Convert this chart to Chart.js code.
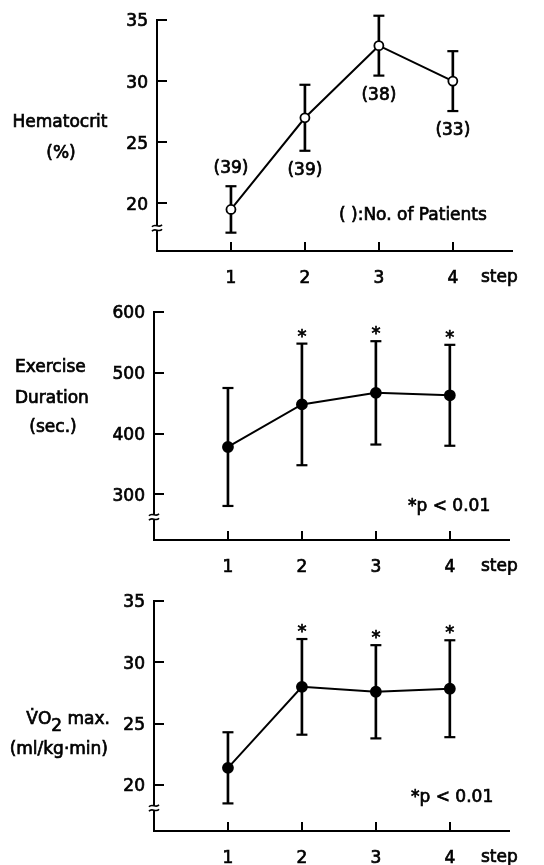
<!DOCTYPE html>
<html>
<head>
<meta charset="utf-8">
<script src="https://cdn.jsdelivr.net/npm/chart.js@4/dist/chart.umd.min.js"></script>
<style>
  html, body { margin: 0; padding: 0; background: #fff; }
  #wrap { position: relative; width: 544px; height: 865px; background: #fff; }
  canvas { position: absolute; left: 0; }
</style>
</head>
<body>
<div id="wrap">
  <canvas id="hct" width="544" height="290" style="top:0px"></canvas>
  <canvas id="dur" width="544" height="285" style="top:290px"></canvas>
  <canvas id="vo2" width="544" height="290" style="top:575px"></canvas>
</div>
<script>
// ---- data ----
const steps = [1, 2, 3, 4];

const hctMean = [19.5, 27.0, 32.9, 30.0];
const hctSD = [1.9, 2.7, 2.45, 2.45];
const hctN = [39, 39, 38, 33];
const hctTicks = [20, 25, 30, 35];

const durMean = [378, 448, 467, 463];
const durSD = [97, 100, 85, 83];
const durSig = [false, true, true, true];
const durTicks = [300, 400, 500, 600];

const vo2Mean = [21.4, 28.0, 27.6, 27.85];
const vo2SD = [2.9, 3.9, 3.8, 3.95];
const vo2Sig = [false, true, true, true];
const vo2Ticks = [20, 25, 30, 35];

// ---- drawing ----
const FONT = '"DejaVu Sans", sans-serif';
const TEXT_STROKE = 0.7;
const MID_SHIFT = 2; // optical centring of middle-baseline text
Chart.defaults.font.family = FONT;
Chart.defaults.font.size = 17;
Chart.defaults.color = '#000';

function strokeLine(ctx, x1, y1, x2, y2) {
  ctx.beginPath();
  ctx.moveTo(x1, y1);
  ctx.lineTo(x2, y2);
  ctx.stroke();
}

// filled text with a thin outline so it reads as heavy as the axis labels
function text(ctx, s, x, y) {
  ctx.fillText(s, x, y);
  ctx.strokeText(s, x, y);
}

// axis ticks pointing inward, broken-axis mark, side labels and annotations
const decor = {
  id: 'decor',
  afterDraw(chart, args, o) {
    const { ctx, chartArea: a, scales: { x, y } } = chart;
    ctx.save();
    ctx.strokeStyle = '#000';
    ctx.fillStyle = '#000';
    ctx.lineWidth = 2;

    o.yTicks.forEach(v => {
      const py = Math.round(y.getPixelForValue(v));
      strokeLine(ctx, a.left, py, a.left + 10, py);
    });
    steps.forEach(v => {
      const px = Math.round(x.getPixelForValue(v));
      strokeLine(ctx, px, a.bottom, px, a.bottom - 9);
    });

    // break in the value axis
    const by = a.bottom - 23, bx = a.left;
    ctx.fillStyle = '#fff';
    ctx.fillRect(bx - 3, by - 2, 6, 4);
    ctx.fillStyle = '#000';
    ctx.lineWidth = 1.6;
    [-2.2, 2.2].forEach(d => {
      ctx.beginPath();
      ctx.moveTo(bx - 5, by + d + 1);
      ctx.bezierCurveTo(bx - 2, by + d - 3, bx + 2, by + d + 3, bx + 5, by + d - 1);
      ctx.stroke();
    });

    ctx.font = '17px ' + FONT;
    ctx.lineWidth = TEXT_STROKE;
    ctx.textBaseline = 'middle';

    // "step" next to the category ticks
    ctx.textAlign = 'left';
    text(ctx, 'step', 481, a.bottom + 27);

    // side titles
    (o.labels || []).forEach(l => {
      ctx.textAlign = l.align;
      text(ctx, l.text, l.x, l.y + MID_SHIFT);
    });

    // corner note
    if (o.note) {
      ctx.textAlign = 'left';
      text(ctx, o.note.text, o.note.x, o.note.y + MID_SHIFT);
    }

    // significance stars above the upper error caps
    if (o.sig) {
      ctx.textAlign = 'center';
      ctx.textBaseline = 'alphabetic';
      ctx.font = '18px ' + FONT;
      o.sig.forEach((s, i) => {
        if (!s) return;
        const px = x.getPixelForValue(steps[i]);
        const py = y.getPixelForValue(o.mean[i] + o.sd[i]);
        text(ctx, '*', px, py - 2);
      });
      ctx.font = '17px ' + FONT;
      ctx.textBaseline = 'middle';
    }

    // patient counts
    if (o.counts) {
      ctx.textAlign = 'center';
      o.counts.forEach((n, i) => {
        const px = x.getPixelForValue(steps[i]);
        const py = o.countAbove[i]
          ? y.getPixelForValue(o.mean[i] + o.sd[i]) - 20
          : y.getPixelForValue(o.mean[i] - o.sd[i]) + 18;
        text(ctx, '(' + n + ')', px, py + MID_SHIFT);
      });
    }

    // V-dot O2 max. title
    if (o.vo2Title) {
      const t = o.vo2Title;
      const parts = ['V\u0307O', '2', ' max.'];
      const w = parts.map(p => ctx.measureText(p).width);
      let cx = t.right - (w[0] + w[1] + w[2]);
      const ty = t.y + MID_SHIFT;
      ctx.textAlign = 'left';
      text(ctx, parts[0], cx, ty); cx += w[0];
      text(ctx, parts[1], cx, ty + 7); cx += w[1];
      text(ctx, parts[2], cx, ty);
    }
    ctx.restore();
  }
};

function makePanel(id, cfg) {
  const canvas = document.getElementById(id);
  const H = canvas.height, W = canvas.width;
  const area = cfg.area;
  const pts = steps.map((s, i) => ({ x: s, y: cfg.mean[i] }));
  const bars = steps.map((s, i) => ({ x: s, y: [cfg.mean[i] - cfg.sd[i], cfg.mean[i] + cfg.sd[i]] }));
  const caps = [];
  steps.forEach((s, i) => {
    caps.push({ x: s, y: cfg.mean[i] + cfg.sd[i] });
    caps.push({ x: s, y: cfg.mean[i] - cfg.sd[i] });
  });
  const tickFont = { size: 17, family: FONT };

  return new Chart(canvas, {
    type: 'line',
    data: {
      datasets: [
        {
          type: 'line', data: pts, order: 0, clip: false,
          borderColor: '#000', borderWidth: 2, tension: 0,
          pointRadius: cfg.open ? 4.5 : 5, pointBorderWidth: 1.8,
          pointBackgroundColor: cfg.open ? '#fff' : '#000', pointBorderColor: '#000'
        },
        {
          type: 'bar', data: bars, order: 1, clip: false,
          backgroundColor: '#000', borderWidth: 0, barThickness: 2
        },
        {
          type: 'scatter', data: caps, order: 2, clip: false, showLine: false,
          pointStyle: 'line', pointRadius: 5.5, pointBorderWidth: 2.2,
          pointBorderColor: '#000', borderColor: '#000'
        }
      ]
    },
    options: {
      responsive: false,
      animation: false,
      events: [],
      layout: { padding: { left: 0, top: area.top, right: W - area.right, bottom: 0 } },
      plugins: {
        legend: { display: false },
        tooltip: { enabled: false },
        decor: {
          yTicks: cfg.yTicks, labels: cfg.labels, note: cfg.note,
          sig: cfg.sig, mean: cfg.mean, sd: cfg.sd,
          counts: cfg.counts, countAbove: cfg.countAbove, vo2Title: cfg.vo2Title
        }
      },
      scales: {
        x: {
          type: 'linear', min: 0, max: 4.8, offset: false,
          grid: { display: false, drawTicks: false },
          border: { display: true, color: '#000', width: 2 },
          ticks: { padding: 17, font: tickFont, color: '#000', textStrokeColor: '#000', textStrokeWidth: TEXT_STROKE },
          afterBuildTicks: s => { s.ticks = steps.map(v => ({ value: v })); },
          afterFit: s => { s.height = H - area.bottom; }
        },
        y: {
          type: 'linear', min: cfg.yRange[0], max: cfg.yRange[1],
          grid: { display: false, drawTicks: false },
          border: { display: true, color: '#000', width: 2 },
          ticks: { padding: 9, labelOffset: 2, font: tickFont, color: '#000', textStrokeColor: '#000', textStrokeWidth: TEXT_STROKE },
          afterBuildTicks: s => { s.ticks = cfg.yTicks.map(v => ({ value: v })); },
          afterFit: s => { s.width = area.left; }
        }
      }
    },
    plugins: [decor]
  });
}

makePanel('hct', {
  area: { left: 157, top: 20, right: 512, bottom: 251 },
  yRange: [16.1, 35], yTicks: hctTicks,
  mean: hctMean, sd: hctSD, open: true,
  counts: hctN, countAbove: [true, false, false, false],
  labels: [
    { text: 'Hematocrit', x: 60, y: 121, align: 'center' },
    { text: '(%)', x: 61, y: 152, align: 'center' }
  ],
  note: { text: '( ):No. of Patients', x: 339, y: 214 }
});

makePanel('dur', {
  area: { left: 154, top: 22, right: 509, bottom: 250 },
  yRange: [225, 600], yTicks: durTicks,
  mean: durMean, sd: durSD, sig: durSig,
  labels: [
    { text: 'Exercise', x: 15, y: 76, align: 'left' },
    { text: 'Duration', x: 15, y: 107, align: 'left' },
    { text: '(sec.)', x: 53, y: 136, align: 'center' }
  ],
  note: { text: '*p < 0.01', x: 408, y: 215 }
});

makePanel('vo2', {
  area: { left: 154, top: 26, right: 509, bottom: 256 },
  yRange: [16.25, 35], yTicks: vo2Ticks,
  mean: vo2Mean, sd: vo2SD, sig: vo2Sig,
  labels: [
    { text: '(ml/kg\u00b7min)', x: 108, y: 173, align: 'right' }
  ],
  vo2Title: { right: 110, y: 143 },
  note: { text: '*p < 0.01', x: 411, y: 221 }
});
</script>
</body>
</html>
